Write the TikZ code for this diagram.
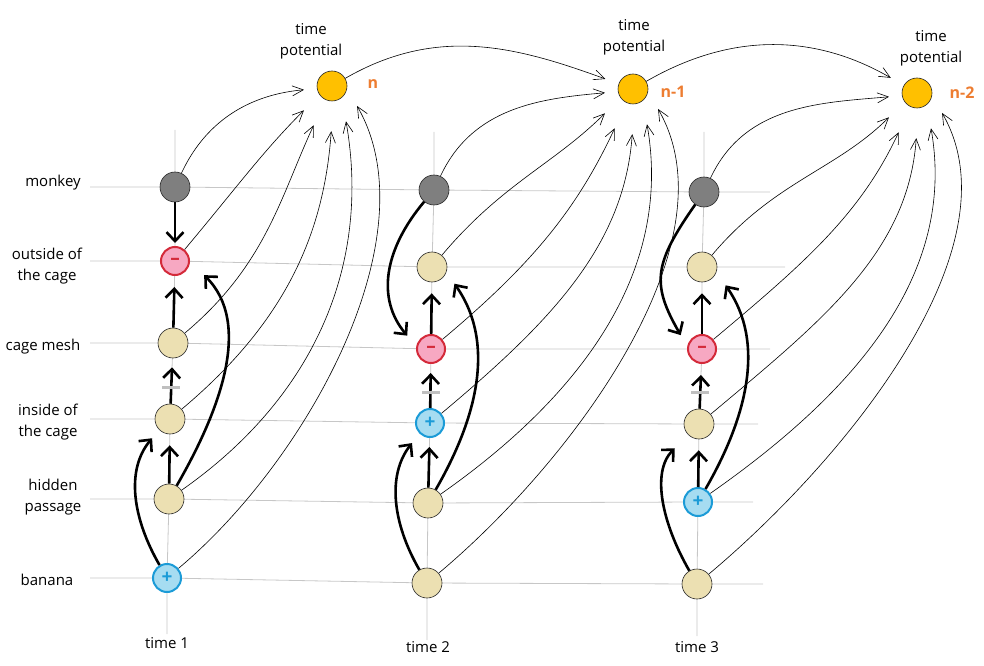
\documentclass[tikz,border=0pt]{standalone}
\usepackage{fontspec}
\setmainfont{Open Sans}
\usepackage{tikz}
\usetikzlibrary{arrows.meta,backgrounds}

\definecolor{beige}{RGB}{236,224,178}
\definecolor{monkeygray}{RGB}{127,127,127}
\definecolor{negfill}{RGB}{247,168,194}
\definecolor{negline}{RGB}{212,42,58}
\definecolor{posfill}{RGB}{166,220,241}
\definecolor{posline}{RGB}{27,155,215}
\definecolor{potfill}{RGB}{255,192,0}
\definecolor{numorange}{RGB}{237,125,49}

\begin{document}
\begin{tikzpicture}[
    x=1pt, y=1pt,
    font=\fontsize{15}{21}\selectfont,
    st/.style={circle, draw=black!85, line width=0.6pt, minimum size=30pt, inner sep=0pt},
    pl/.style={st, fill=beige},
    mk/.style={st, fill=monkeygray},
    minusn/.style={st, fill=negfill, draw=negline, line width=2pt, minimum size=28pt, text=negline, font=\fontsize{19}{19}\selectfont\bfseries},
    plusn/.style={st, fill=posfill, draw=posline, line width=2pt, minimum size=28pt, text=posline, font=\fontsize{19}{19}\selectfont\bfseries},
    pot/.style={st, fill=potfill},
    lb/.style={align=center},
    nl/.style={font=\fontsize{16}{16}\selectfont\bfseries, text=numorange},
    fl/.style={-{Straight Barb[length=11pt,width=10pt]}, line width=0.6pt},
    sa/.style={-{Straight Barb[length=9pt,width=17pt]}, line width=2.6pt},
    gl/.style={draw=black!22, line width=0.8pt},
    gbar/.style={fill=black!25, minimum width=18pt, minimum height=3pt, inner sep=0pt},
]
    \useasboundingbox (0,0) rectangle (984,665);

    % row labels
    \node[lb] (lmonkey) at (53,482) {monkey};
    \node[lb] (loutside) at (47,399) {outside of\\the cage};
    \node[lb] (lmesh) at (43,318) {cage mesh};
    \node[lb] (linside) at (48,243) {inside of\\the cage};
    \node[lb] (lhidden) at (53,168) {hidden\\passage};
    \node[lb] (lbanana) at (47,85) {banana};

    % time 1
    \node[mk] (monkey1) at (175,478) {};
    \node[minusn] (outside1) at (175,404) {–};
    \node[pl] (mesh1) at (173,322) {};
    \node[pl] (inside1) at (170,246) {};
    \node[pl] (hidden1) at (169,166) {};
    \node[plusn] (banana1) at (167,87) {+};
    \node (t1) at (167,22) {time 1};

    % time 2
    \node[mk] (monkey2) at (434,475) {};
    \node[pl] (outside2) at (432,398) {};
    \node[minusn] (mesh2) at (431,316) {–};
    \node[plusn] (inside2) at (430,242) {+};
    \node[pl] (hidden2) at (428,162) {};
    \node[pl] (banana2) at (427,82) {};
    \node (t2) at (428,18) {time 2};

    % time 3
    \node[mk] (monkey3) at (704,473) {};
    \node[pl] (outside3) at (702,398) {};
    \node[minusn] (mesh3) at (702,316) {–};
    \node[pl] (inside3) at (699,241) {};
    \node[plusn] (hidden3) at (698,163) {+};
    \node[pl] (banana3) at (697,81) {};
    \node (t3) at (697,18) {time 3};

    % time potential
    \node[pot] (tp1) at (332,579) {};
    \node[pot] (tp2) at (633,576) {};
    \node[pot] (tp3) at (917,572) {};
    \node[lb] (tpl1) at (311,624) {time\\potential};
    \node[lb] (tpl2) at (634,628) {time\\potential};
    \node[lb] (tpl3) at (931,617) {time\\potential};
    \node[nl] (n1) at (373,581) {n};
    \node[nl] (n2) at (673,573) {n-1};
    \node[nl] (n3) at (962,572) {n-2};

    % grid
    \begin{scope}[on background layer]
        \foreach \r/\e in {monkey/770, outside/785, mesh/770, inside/758, hidden/753, banana/763}
            \draw[gl] (90,0 |- \r1) -- (\r1.center) -- (\r2.center) -- (\r3.center) -- (\e,0 |- \r3);
        \foreach \c/\t/\b in {1/535/31, 2/533/25, 3/533/29}
            \draw[gl] (monkey\c |- 0,\t) -- (monkey\c.center) -- (outside\c.center) -- (mesh\c.center)
                -- (inside\c.center) -- (hidden\c.center) -- (banana\c.center) -- (banana\c |- 0,\b);
    \end{scope}

    % into the time potential
    \foreach \c in {1,2,3} {
        \draw[fl, shorten >=13pt] (monkey\c) to[out=65,in=185] (tp\c.190);
        \draw[fl, shorten >=22pt] (outside\c) to[out=50,in=225] (tp\c.215);
        \draw[fl, shorten >=28pt] (mesh\c) to[out=40,in=245] (tp\c.245);
        \draw[fl, shorten >=30pt] (inside\c) to[out=40,in=266] (tp\c.275);
        \draw[fl, shorten >=24pt] (hidden\c) to[out=35,in=280] (tp\c.310);
        \draw[fl, shorten >=20pt, looseness=0.85] (banana\c) to[out=40,in=300] (tp\c.350);
    }
    \draw[fl, shorten >=14pt] (tp1) to[out=30,in=160] (tp2.160);
    \draw[fl, shorten >=15pt] (tp2) to[out=30,in=150] (tp3.150);

    % time 1 moves
    \draw[sa, shorten >=3pt] (monkey1) -- (outside1);
    \draw[sa, shorten >=11pt] (mesh1) -- (outside1);
    \draw[sa, shorten >=9pt] (inside1) -- (mesh1);
    \draw[sa, shorten >=11pt] (hidden1) -- (inside1);
    \draw[sa, shorten >=20pt] (hidden1) to[out=60,in=-45] (outside1.east);
    \draw[sa, shorten >=11pt] (banana1) to[out=120,in=230] (inside1.225);

    % time 2 moves
    \draw[sa, shorten >=14pt, looseness=1.1] (monkey2) to[out=230,in=130] (mesh2.170);
    \draw[sa, shorten >=11pt] (mesh2) -- (outside2);
    \draw[sa, shorten >=9pt] (inside2) -- (mesh2);
    \draw[sa, shorten >=9pt] (hidden2) -- (inside2);
    \draw[sa, shorten >=14pt] (hidden2) to[out=60,in=-55] (outside2.340);
    \draw[sa, shorten >=12pt] (banana2) to[out=120,in=232] (inside2.225);

    % time 3 moves
    \draw[sa, shorten >=13pt, looseness=1.3] (monkey3) to[out=235,in=120] (mesh3.170);
    \draw[sa, shorten >=11pt] (mesh3) -- (outside3);
    \draw[sa, shorten >=11pt] (inside3) -- (mesh3);
    \draw[sa, shorten >=11pt] (hidden3) -- (inside3);
    \draw[sa, shorten >=16pt] (hidden3) to[out=60,in=-55] (outside3.340);
    \draw[sa, shorten >=19pt] (banana3) to[out=120,in=225] (inside3.225);

    % blocked steps
    \node[gbar] (bar1) at (171,278) {};
    \node[gbar] (bar2) at (431,273) {};
    \node[gbar] (bar3) at (700,273) {};
\end{tikzpicture}
\end{document}
